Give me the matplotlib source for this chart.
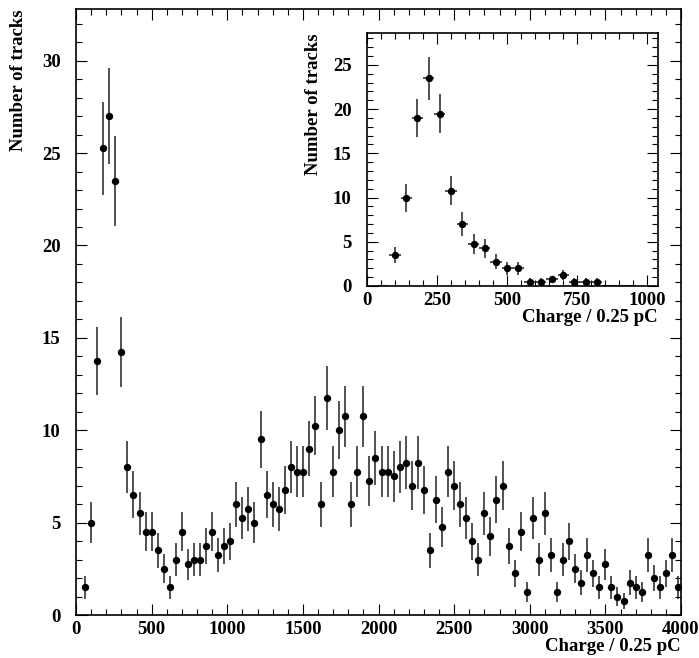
import numpy as np
import matplotlib
matplotlib.use('Agg')
import matplotlib.pyplot as plt
from matplotlib.ticker import MultipleLocator

# main histogram: bin centres (width 40), contents and errors
main_x = np.arange(60, 4000, 40)
main_y = [1.5, 5.0, 13.75, 25.25, 27.0, 23.5, 14.25, 8.0, 6.5, 5.5,
          4.5, 4.5, 3.5, 2.5, 1.5, 3.0, 4.5, 2.75, 3.0, 3.0,
          3.75, 4.5, 3.25, 3.75, 4.0, 6.0, 5.25, 5.75, 5.0, 9.5,
          6.5, 6.0, 5.75, 6.75, 8.0, 7.75, 7.75, 9.0, 10.25, 6.0,
          11.75, 7.75, 10.0, 10.75, 6.0, 7.75, 10.75, 7.25, 8.5, 7.75,
          7.75, 7.5, 8.0, 8.25, 7.0, 8.25, 6.75, 3.5, 6.25, 4.75,
          7.75, 7.0, 6.0, 5.25, 4.0, 3.0, 5.5, 4.25, 6.25, 7.0,
          3.75, 2.25, 4.5, 1.25, 5.25, 3.0, 5.5, 3.25, 1.25, 3.0,
          4.0, 2.5, 1.75, 3.25, 2.25, 1.5, 2.75, 1.5, 1.0, 0.75,
          1.75, 1.5, 1.25, 3.25, 2.0, 1.5, 2.25, 3.25, 1.5]
main_err = [0.61, 1.12, 1.85, 2.51, 2.60, 2.42, 1.89, 1.41, 1.27, 1.17,
            1.06, 1.06, 0.94, 0.79, 0.61, 0.87, 1.06, 0.83, 0.87, 0.87,
            0.97, 1.06, 0.90, 0.97, 1.00, 1.22, 1.15, 1.20, 1.12, 1.54,
            1.27, 1.22, 1.20, 1.30, 1.41, 1.39, 1.39, 1.50, 1.60, 1.22,
            1.71, 1.39, 1.58, 1.64, 1.22, 1.39, 1.64, 1.35, 1.46, 1.39,
            1.39, 1.37, 1.41, 1.44, 1.32, 1.44, 1.30, 0.94, 1.25, 1.09,
            1.39, 1.32, 1.22, 1.15, 1.00, 0.87, 1.17, 1.03, 1.25, 1.32,
            0.97, 0.75, 1.06, 0.56, 1.15, 0.87, 1.17, 0.90, 0.56, 0.87,
            1.00, 0.79, 0.66, 0.90, 0.75, 0.61, 0.83, 0.61, 0.50, 0.43,
            0.66, 0.61, 0.56, 0.90, 0.71, 0.61, 0.75, 0.90, 0.61]

# inset histogram
ins_x = np.arange(60, 980, 40)
ins_y = [0, 3.5, 10.0, 19.0, 23.5, 19.5, 10.75, 7.0, 4.75, 4.25,
         2.75, 2.0, 2.0, 0.5, 0.5, 0.75, 1.25, 0.5, 0.5, 0.5,
         0, 0, 0]
ins_err = [0, 0.94, 1.58, 2.18, 2.42, 2.21, 1.64, 1.32, 1.09, 1.03,
           0.83, 0.71, 0.71, 0.35, 0.35, 0.43, 0.56, 0.35, 0.35, 0.35,
           0, 0, 0]

plt.rcParams['font.family'] = ['Liberation Serif', 'DejaVu Serif']
plt.rcParams['font.weight'] = 'bold'
plt.rcParams['axes.labelweight'] = 'bold'
plt.rcParams['font.size'] = 13.5

fig = plt.figure(figsize=(6.99, 6.58), dpi=100)


def style(ax, xmaj, xmin, ymaj, ymin):
    ax.xaxis.set_major_locator(MultipleLocator(xmaj))
    ax.xaxis.set_minor_locator(MultipleLocator(xmin))
    ax.yaxis.set_major_locator(MultipleLocator(ymaj))
    ax.yaxis.set_minor_locator(MultipleLocator(ymin))
    ax.tick_params(which='both', direction='in', top=True, right=True, width=0.8)
    ax.tick_params(which='major', length=8)
    ax.tick_params(which='minor', length=4)
    ax.tick_params(axis='y', which='major', pad=11)
    ax.tick_params(axis='x', which='major', pad=4)
    for s in ax.spines.values():
        s.set_linewidth(1.2)


ax = fig.add_axes([76 / 699, 1 - 615 / 658, (681 - 76) / 699, (615 - 9) / 658])
ax.errorbar(main_x, main_y, yerr=main_err, fmt='o', color='black', ecolor='#222222',
            ms=4.3, elinewidth=1.1, capsize=0)
ax.set_xlim(0, 4000)
ax.set_ylim(0, 32.8)
style(ax, 500, 100, 5, 1)
ax.set_xlabel('Charge / 0.25 pC', loc='right', labelpad=0)
ax.set_ylabel('Number of tracks', loc='top', labelpad=11)

ins = fig.add_axes([367 / 699, 1 - 286 / 658, (658 - 367) / 699, (286 - 33) / 658])
ins_y = np.array(ins_y)
ins_err = np.array(ins_err)
nz = ins_y > 0
ins.errorbar(ins_x[nz], ins_y[nz], yerr=ins_err[nz], xerr=20, fmt='o', color='black',
             ecolor='#222222', ms=4.3, elinewidth=1.1, capsize=0)
ins.errorbar(ins_x[~nz], ins_y[~nz], xerr=20, fmt='none', ecolor='#222222',
             elinewidth=1.1, capsize=0)
ins.set_xlim(0, 1038)
ins.set_ylim(0, 28.6)
style(ins, 250, 50, 5, 1)
ins.set_xlabel('Charge / 0.25 pC', loc='right', labelpad=0)
ins.set_ylabel('Number of tracks', loc='top', labelpad=8)

fig.savefig('out.png', dpi=100)
